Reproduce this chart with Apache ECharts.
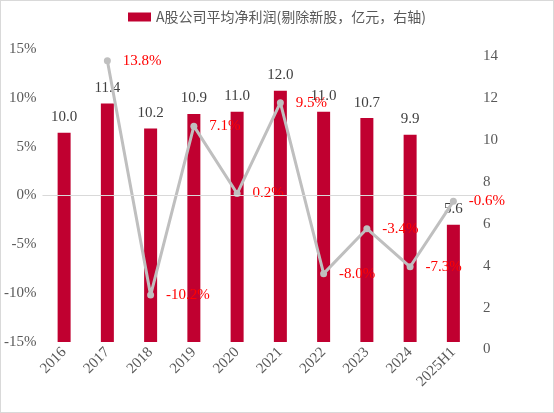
<!DOCTYPE html>
<html>
<head>
<meta charset="utf-8">
<script src="https://cdn.jsdelivr.net/npm/echarts@6/dist/echarts.min.js"></script>
<style>
html,body{margin:0;padding:0;background:#fff;}
#c{width:552px;height:411px;border:1px solid #d9d9d9;}
</style>
</head>
<body>
<div id="c"></div>
<script>
var categories = ['2016','2017','2018','2019','2020','2021','2022','2023','2024','2025H1'];
var profitValues = [10.0, 11.4, 10.2, 10.9, 11.0, 12.0, 11.0, 10.7, 9.9, 5.6];
var growthValues = [null, 13.8, -10.2, 7.1, 0.2, 9.5, -8.0, -3.4, -7.3, -0.6];
var leftTicks = {min: -15, max: 15, interval: 5};
var rightTicks = {min: 0, max: 14, interval: 2};
var barName = 'A股公司平均净利润(剔除新股，亿元，右轴)';

var chart = echarts.init(document.getElementById('c'));
var serif = 'Liberation Serif';
chart.setOption({
  animation: false,
  legend: {
    data: [{name: barName, icon: 'rect'}],
    top: 4,
    left: 'center',
    itemWidth: 23,
    itemHeight: 9,
    itemGap: 5,
    textStyle: {fontFamily: 'Noto Sans CJK SC', fontSize: 14, color: '#595959'}
  },
  grid: {left: 39, right: 78, top: 48, bottom: 70, containLabel: false},
  xAxis: {
    type: 'category',
    data: categories,
    axisLine: {show: false},
    axisTick: {show: false},
    axisLabel: {rotate: 45, color: '#595959', fontFamily: serif, fontSize: 15, margin: 8}
  },
  yAxis: [
    {
      type: 'value', min: leftTicks.min, max: leftTicks.max, interval: leftTicks.interval,
      splitLine: {show: false}, axisLine: {show: false}, axisTick: {show: false},
      axisLabel: {formatter: '{value}%', color: '#595959', fontFamily: serif, fontSize: 15, margin: 6}
    },
    {
      type: 'value', min: rightTicks.min, max: rightTicks.max, interval: rightTicks.interval,
      position: 'right',
      splitLine: {show: false}, axisLine: {show: false}, axisTick: {show: false},
      axisLabel: {color: '#595959', fontFamily: serif, fontSize: 15, margin: 8, verticalAlign: 'top'}
    }
  ],
  series: [
    {
      name: barName,
      type: 'bar',
      yAxisIndex: 1,
      data: profitValues,
      barWidth: 13,
      itemStyle: {color: '#c00030'},
      label: {
        show: true, position: 'top', distance: 8,
        formatter: function (p) { return p.value.toFixed(1); },
        color: '#404040', fontFamily: serif, fontSize: 15
      },
      z: 2
    },
    {
      name: 'growth',
      type: 'line',
      yAxisIndex: 0,
      data: growthValues,
      connectNulls: false,
      symbol: 'circle',
      symbolSize: 7,
      lineStyle: {color: '#bfbfbf', width: 3},
      itemStyle: {color: '#bfbfbf'},
      label: {
        show: true, position: 'right', distance: 12,
        formatter: function (p) { return p.value == null ? '' : p.value.toFixed(1) + '%'; },
        color: '#ff0000', fontFamily: serif, fontSize: 15
      },
      markLine: {
        silent: true, symbol: 'none', label: {show: false},
        lineStyle: {color: '#d9d9d9', width: 1, type: 'solid'},
        data: [{yAxis: 0}]
      },
      z: 3
    }
  ]
});
</script>
</body>
</html>
